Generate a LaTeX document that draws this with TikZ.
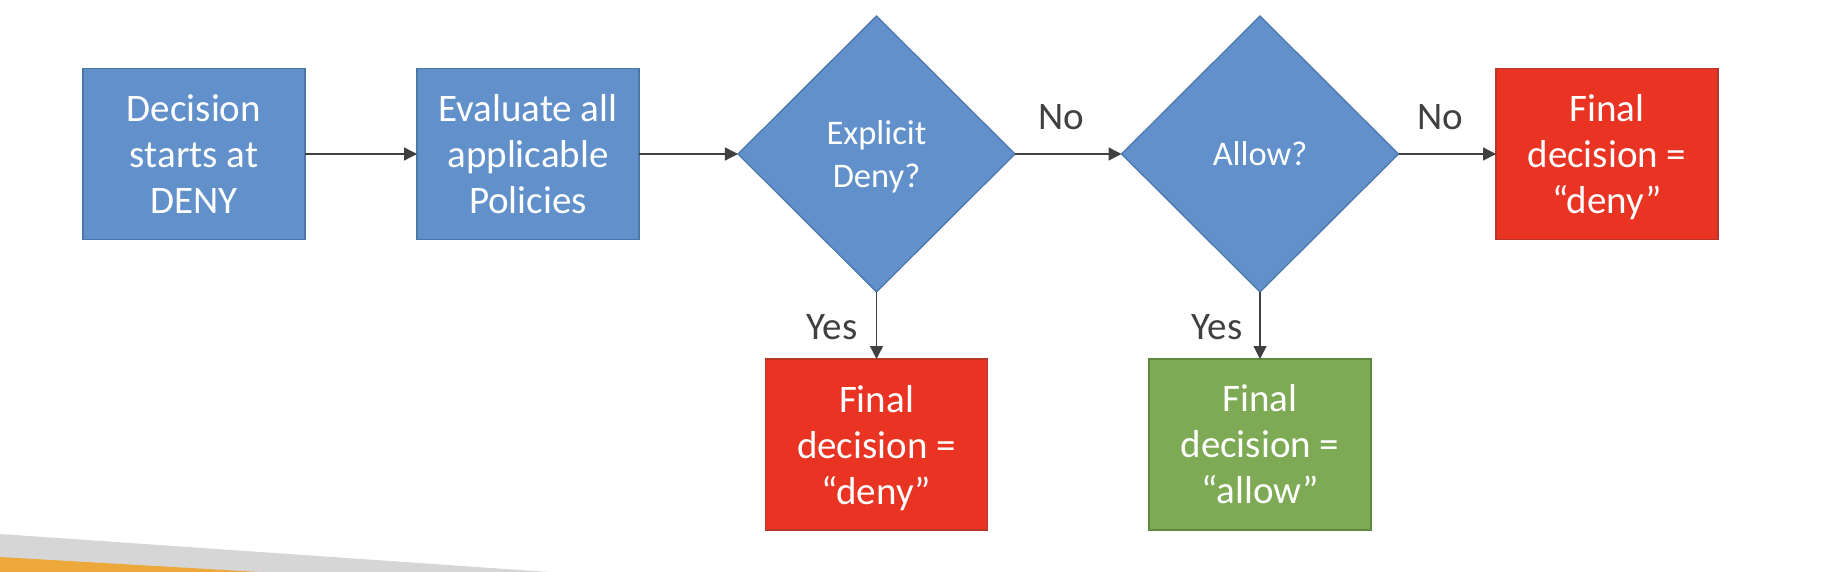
\documentclass[tikz,border=0pt]{standalone}
\usepackage{fontspec}
\setmainfont{Carlito}
\usetikzlibrary{shapes.geometric,arrows.meta}
\definecolor{boxblue}{HTML}{6190CB}
\definecolor{blueline}{HTML}{4A76A8}
\definecolor{boxred}{HTML}{E93323}
\definecolor{redline}{HTML}{B8352A}
\definecolor{boxgreen}{HTML}{7EAA56}
\definecolor{greenline}{HTML}{5E8A3C}
\definecolor{labelgrey}{HTML}{404040}
\definecolor{bandgrey}{HTML}{D6D6D6}
\definecolor{bandorange}{HTML}{EDA83B}
\tikzset{
  procbox/.style={rectangle, draw=blueline, fill=boxblue, line width=1.2pt,
    minimum width=222pt, minimum height=171pt, inner sep=0pt, outer sep=0pt,
    text=white, align=center, font=\fontsize{39}{46}\selectfont},
  denybox/.style={procbox, draw=redline, fill=boxred},
  allowbox/.style={procbox, draw=greenline, fill=boxgreen},
  decision/.style={diamond, aspect=1, draw=blueline, fill=boxblue, line width=1.2pt,
    minimum width=277pt, minimum height=276pt, inner sep=0pt, outer sep=0pt,
    text=white, align=center, font=\fontsize{34.5}{43}\selectfont},
  lbl/.style={text=labelgrey, font=\fontsize{39}{46}\selectfont, inner sep=0pt},
  conn/.style={draw=labelgrey, line width=1.4pt, -{Triangle[length=13pt,width=13pt]}}
}
\begin{document}
\begin{tikzpicture}[x=1pt,y=-1pt]
\useasboundingbox (0,0) rectangle (1822,572);
% decorative bands
\fill[bandgrey] (0,534) -- (549,572) -- (0,572) -- cycle;
\fill[bandorange] (0,557) -- (259,572) -- (0,572) -- cycle;
% nodes
\node[procbox] (start) at (194,154) {Decision\\starts at\\DENY};
\node[procbox] (eval) at (528,154) {Evaluate all\\applicable\\Policies};
\node[decision] (explicit) at (876.5,154) {Explicit\\\smash{Deny?}};
\node[decision] (allow) at (1260,154) {Allow?};
\node[denybox] (denyR) at (1607,154) {Final\\decision =\\\smash{“deny”}};
\node[denybox] (denyB) at (876.5,444.5) {Final\\decision =\\\smash{“deny”}};
\node[allowbox] (allowB) at (1260,444.5) {Final\\decision =\\“allow”};
% connectors
\draw[conn] (start) -- (eval);
\draw[conn] (eval) -- (explicit);
\draw[conn] (explicit) -- (allow);
\draw[conn] (allow) -- (denyR);
\draw[conn] (explicit) -- (denyB);
\draw[conn] (allow) -- (allowB);
% labels
\node[lbl] (no1) at (1061,117) {No};
\node[lbl] (no2) at (1440,117) {No};
\node[lbl] (yes1) at (832,327) {Yes};
\node[lbl] (yes2) at (1217,327) {Yes};
\end{tikzpicture}
\end{document}
